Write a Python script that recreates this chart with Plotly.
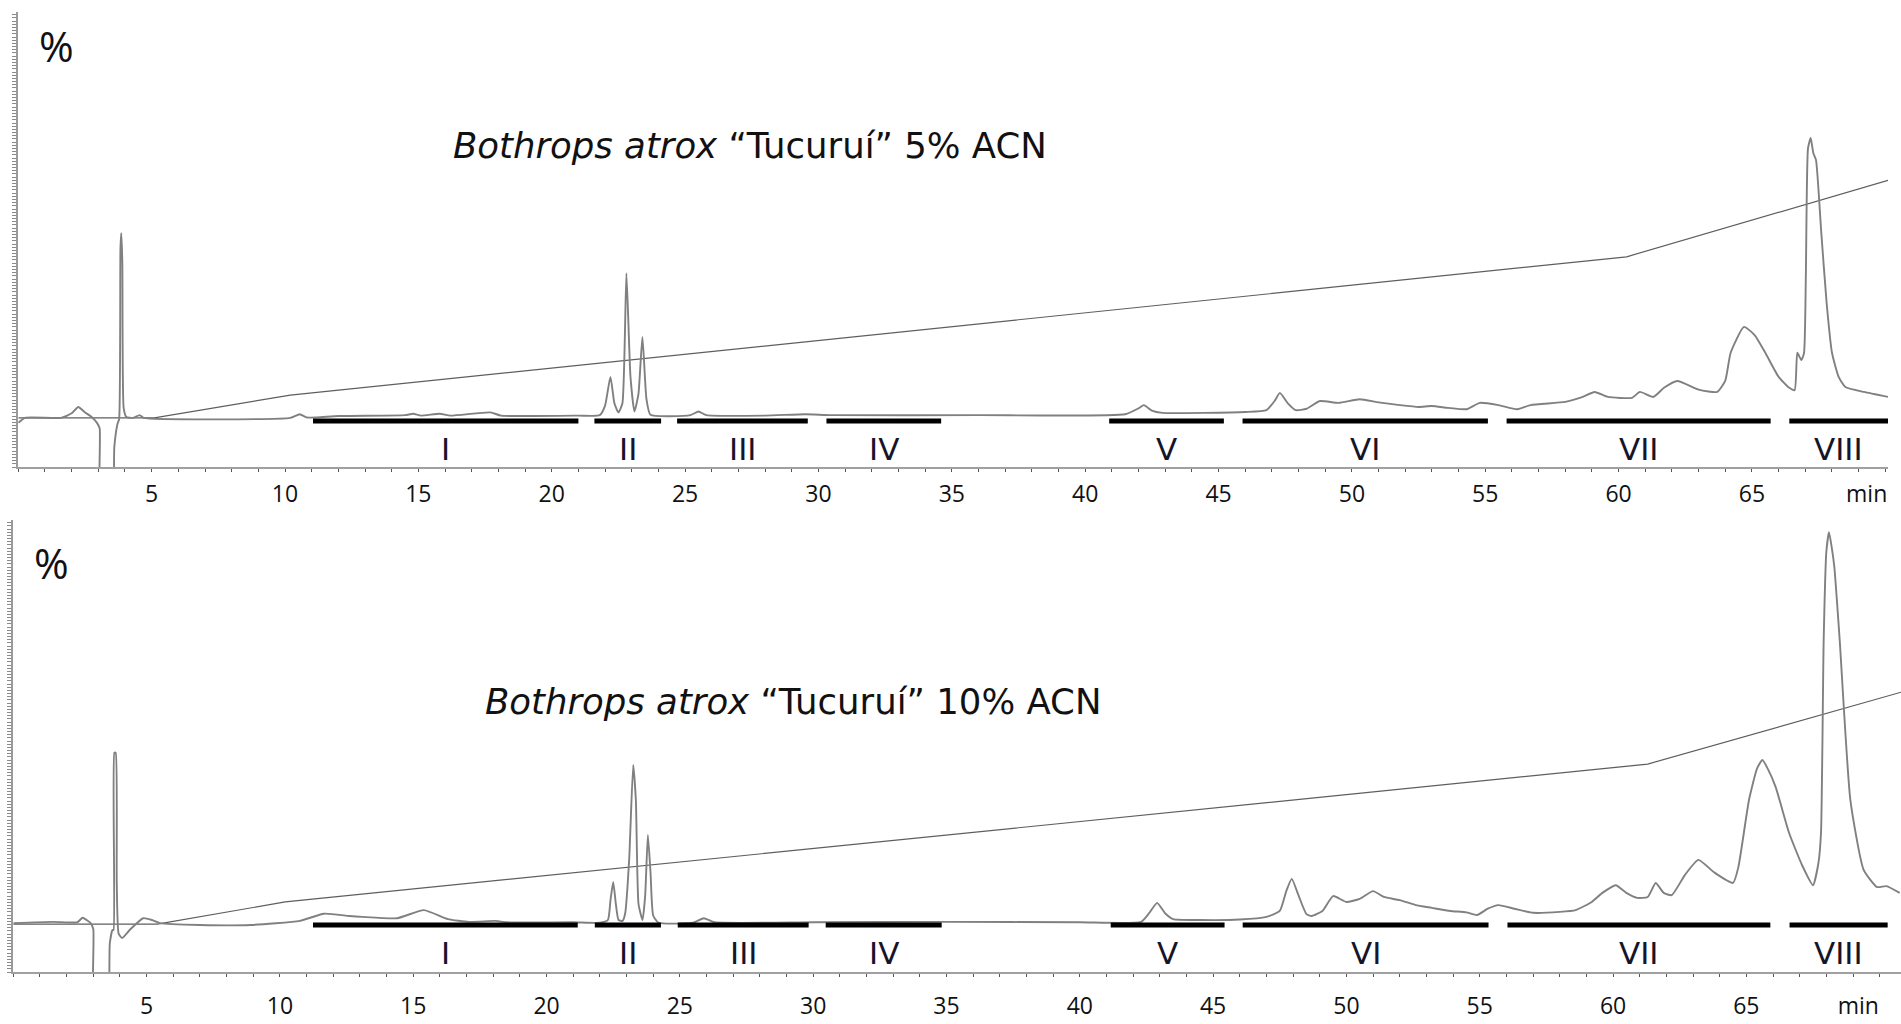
import plotly.graph_objects as go

# ---------------- DATA ----------------
# Panel A: 5% ACN  (time in min, signal in % of full scale)
t_a = [0, 0.25, 1.6, 2.0, 2.25, 2.5, 2.75, 2.95, 3.05, 3.1, 3.5, 3.6, 3.72, 3.78, 3.83, 3.86, 3.9, 3.95,
       4.05, 4.3, 4.55, 4.7, 10.2, 10.55, 10.8, 11.2, 12.0, 14.5, 14.8, 15.1, 15.8, 16.2, 17.7, 18.1, 21.0,
       21.8, 22.0, 22.2, 22.35, 22.5, 22.65, 22.8, 22.95, 23.1, 23.25, 23.4, 23.55, 23.7, 25.2, 25.5, 25.8,
       28.0, 29.5, 30.5, 36.0, 41.5, 42.0, 42.2, 42.5, 42.9, 46.0, 46.8, 47.1, 47.3, 47.6, 47.9, 48.3, 48.8,
       49.5, 50.3, 51.0, 51.8, 52.5, 53.0, 53.6, 54.3, 54.8, 55.5, 56.2, 56.7, 58.0, 58.6, 59.1, 59.6, 60.5,
       60.8, 61.3, 61.7, 62.2, 63.0, 63.7, 64.0, 64.2, 64.7, 65.1, 65.5, 66.0, 66.4, 66.6, 66.7, 66.85,
       66.95, 67.02, 67.1, 67.2, 67.3, 67.4, 67.6, 67.8, 68.0, 68.25, 68.5, 69.2, 70.1]
s_a = [9.7, 10.8, 10.8, 11.8, 13.2, 12.0, 11.0, 9.7, 8.5, -10, -10, 4.4, 9.5, 10.5, 48.0, 51.4, 45.0, 13.0,
       11.0, 10.8, 11.4, 10.8, 10.8, 11.6, 10.9, 10.9, 11.2, 11.4, 11.7, 11.3, 11.7, 11.3, 12.0, 11.3, 11.3,
       11.4, 13.5, 19.8, 14.0, 12.0, 14.0, 42.6, 20.0, 12.2, 16.0, 28.6, 15.0, 11.5, 11.4, 12.2, 11.4,
       11.3, 11.6, 11.4, 11.4, 11.6, 12.9, 13.6, 12.4, 11.9, 12.1, 12.5, 14.5, 16.3, 14.0, 12.5, 12.8, 14.5,
       14.1, 14.9, 14.2, 13.6, 13.2, 13.4, 13.0, 12.7, 14.1, 13.6, 12.7, 13.6, 14.3, 15.3, 16.5, 15.4, 15.2,
       16.5, 15.4, 17.4, 18.9, 17.0, 16.5, 19.0, 25.1, 30.8, 29.0, 25.1, 19.8, 17.4, 16.9, 25.1, 23.5,
       25.0, 42.0, 70.0, 72.3, 69.0, 67.5, 51.4, 36.0, 25.1, 19.8, 17.6, 16.5, 15.4]
grad_t_a = [0, 5.1, 10.2, 60.3, 70.1]
grad_a = [10.8, 10.8, 15.8, 46.2, 63.0]

# Panel B: 10% ACN
t_b = [0, 1.5, 2.4, 2.6, 2.75, 2.9, 3.0, 3.05, 3.5, 3.62, 3.72, 3.76, 3.79, 3.84, 3.88, 3.95, 4.08, 4.4,
       4.87, 5.2, 5.5, 7.0, 8.9, 10.75, 11.65, 12.6, 13.1, 14.4, 15.4, 16.3, 17.1, 18.1, 18.5, 21.0, 22.0,
       22.3, 22.4, 22.5, 22.6, 22.7, 22.85, 22.95, 23.1, 23.25, 23.35, 23.45, 23.6, 23.7, 23.8, 23.9, 24.0,
       24.2, 25.5, 25.9, 26.3, 30.0, 35.0, 40.0, 42.3, 42.6, 42.9, 43.2, 43.5, 44.5, 46.0, 47.0, 47.5,
       47.75, 47.95, 48.2, 48.5, 48.7, 49.1, 49.5, 50.0, 50.5, 51.0, 51.4, 52.0, 52.6, 53.2, 53.9, 54.5,
       54.9, 55.3, 55.7, 56.3, 57.0, 58.0, 58.6, 59.2, 59.6, 60.1, 60.5, 60.9, 61.3, 61.6, 61.9, 62.2,
       62.7, 63.2, 63.8, 64.5, 64.7, 65.1, 65.4, 65.6, 65.8, 66.1, 66.6, 67.1, 67.5, 67.7, 67.8, 67.9,
       68.0, 68.1, 68.2, 68.3, 68.5, 68.9, 69.4, 69.9, 70.25, 70.75]
s_b = [10.8, 11.1, 11.0, 12.0, 11.5, 10.8, 9.5, -10, -10, 6.4, 9.3, 9.3, 48.5, 48.5, 20.0, 8.5, 7.5, 9.5,
       11.9, 11.5, 10.8, 10.4, 10.4, 11.3, 12.9, 12.4, 12.2, 11.9, 13.7, 11.7, 11.1, 11.3, 11.0, 11.0, 10.9,
       11.5, 16.0, 19.9, 15.0, 11.5, 11.3, 13.0, 25.0, 45.8, 38.0, 15.0, 11.5, 17.0, 30.3, 22.0, 12.5,
       10.9, 10.9, 11.9, 11.0, 11.0, 11.1, 11.0, 11.1, 13.0, 15.3, 13.0, 11.7, 11.5, 11.6, 12.2, 13.5,
       18.0, 20.6, 17.0, 12.8, 12.4, 13.5, 16.8, 15.5, 16.2, 17.9, 16.6, 15.9, 14.8, 14.2, 13.5, 13.2,
       12.6, 14.0, 14.8, 14.0, 13.1, 13.3, 13.7, 15.5, 17.5, 19.2, 17.5, 16.4, 16.6, 19.7, 17.5, 17.0,
       21.5, 24.8, 22.0, 19.7, 23.2, 38.1, 45.0, 46.9, 45.0, 40.9, 30.8, 23.5, 19.2, 24.0, 30.8, 73.5,
       93.0, 97.3, 94.0, 89.6, 73.5, 38.1, 22.6, 18.8, 19.0, 17.5]
grad_t_b = [0, 5.4, 10.2, 61.3, 70.8]
grad_b = [10.6, 10.6, 15.5, 46.0, 61.9]

# Fractions (Roman numerals) and their collection windows (min)
fractions = ["I", "II", "III", "IV", "V", "VI", "VII", "VIII"]
frac_start_a = [11.05, 21.6, 24.7, 30.3, 40.9, 45.9, 55.8, 66.4]
frac_end_a = [21.0, 24.1, 29.6, 34.6, 45.2, 55.1, 65.7, 70.1]
frac_start_b = [11.24, 21.81, 24.92, 30.47, 41.16, 46.11, 56.04, 66.62]
frac_end_b = [21.17, 24.29, 29.83, 34.82, 45.43, 55.33, 65.9, 70.3]

tick_vals = [5, 10, 15, 20, 25, 30, 35, 40, 45, 50, 55, 60, 65]
tick_text = ["5", "10", "15", "20", "25", "30", "35", "40", "45", "50", "55", "60", "65"]
unit_label = "min"

title_a = "<i>Bothrops atrox</i> “Tucuruí” 5% ACN"
title_b = "<i>Bothrops atrox</i> “Tucuruí” 10% ACN"

# ---------------- FIGURE ----------------
W, H = 1901, 1024
fig = go.Figure()

TRACE_COLOR = "#808080"
GRAD_COLOR = "#5e5e5e"


def add_panel(xa, ya, t, s, gt, g, fs, fe, bar_y, label_y):
    fig.add_trace(go.Scatter(x=gt, y=g, mode="lines", xaxis=xa, yaxis=ya,
                             line=dict(color=GRAD_COLOR, width=1.2), hoverinfo="skip"))
    fig.add_trace(go.Scatter(x=t, y=s, mode="lines", xaxis=xa, yaxis=ya,
                             line=dict(color=TRACE_COLOR, width=1.9, shape="spline", smoothing=0.5)))
    bx, by = [], []
    for a, b in zip(fs, fe):
        bx += [a, b, None]
        by += [bar_y, bar_y, None]
    fig.add_trace(go.Scatter(x=bx, y=by, mode="lines", xaxis=xa, yaxis=ya,
                             line=dict(color="black", width=5), hoverinfo="skip"))
    for name, a, b in zip(fractions, fs, fe):
        fig.add_annotation(x=(a + b) / 2, y=label_y, xref=xa, yref=ya, text=name,
                           xanchor="center", yanchor="middle", showarrow=False,
                           font=dict(family="DejaVu Sans", size=31, color="#15152a"))


add_panel("x", "y", t_a, s_a, grad_t_a, grad_a, frac_start_a, frac_end_a, 10.1, 4.0)
add_panel("x2", "y2", t_b, s_b, grad_t_b, grad_b, frac_start_b, frac_end_b, 10.4, 4.2)


def xaxis_cfg(domain, rng, unit_pos, standoff):
    return dict(domain=domain, range=rng, showgrid=False, zeroline=False,
                showline=True, linecolor="#a0a0a0", linewidth=2,
                tickmode="array", tickvals=tick_vals + [unit_pos], ticktext=tick_text + [unit_label],
                ticks="", ticklabelstandoff=standoff,
                tickfont=dict(family="Open Sans", size=23, color="#111"),
                minor=dict(ticks="outside", dtick=1, tick0=0, ticklen=3, tickwidth=1, tickcolor="#555"))


def yaxis_cfg(domain, anchor):
    return dict(domain=domain, range=[0, 100], anchor=anchor, showgrid=False, zeroline=False,
                showline=True, linecolor="#9a9a9a", linewidth=2,
                ticks="outside", ticklen=4, tickwidth=1, tickcolor="#8a8a8a",
                tickmode="linear", tick0=0, dtick=0.7, showticklabels=False)


fig.update_layout(
    width=W, height=H,
    margin=dict(l=0, r=0, t=0, b=0),
    paper_bgcolor="white", plot_bgcolor="white",
    showlegend=False,
    xaxis=xaxis_cfg([18.3 / W, 1888 / W], [0, 70.1], 69.3, 5),
    yaxis=yaxis_cfg([1 - 467 / H, 1 - 12 / H], "x"),
    xaxis2=dict(xaxis_cfg([13.3 / W, 1.0], [0, 70.8], 69.2, 12), anchor="y2"),
    yaxis2=yaxis_cfg([1 - 972 / H, 1 - 520 / H], "x2"),
)
fig.layout.xaxis.anchor = "y"

TITLE_FONT = dict(family="DejaVu Sans", size=35.5, color="#111")
# Titles
fig.add_annotation(x=749.5 / W, y=1 - 145 / H, xref="paper", yref="paper", text=title_a,
                   xanchor="center", yanchor="middle", showarrow=False, font=TITLE_FONT)
fig.add_annotation(x=793 / W, y=1 - 701 / H, xref="paper", yref="paper", text=title_b,
                   xanchor="center", yanchor="middle", showarrow=False, font=TITLE_FONT)
# "%" labels
PCT_FONT = dict(family="Open Sans", size=42, color="#111")
fig.add_annotation(x=56 / W, y=1 - 45 / H, xref="paper", yref="paper", text="%",
                   xanchor="center", yanchor="middle", showarrow=False, font=PCT_FONT)
fig.add_annotation(x=51 / W, y=1 - 562 / H, xref="paper", yref="paper", text="%",
                   xanchor="center", yanchor="middle", showarrow=False, font=PCT_FONT)

fig.write_html("out.html")
